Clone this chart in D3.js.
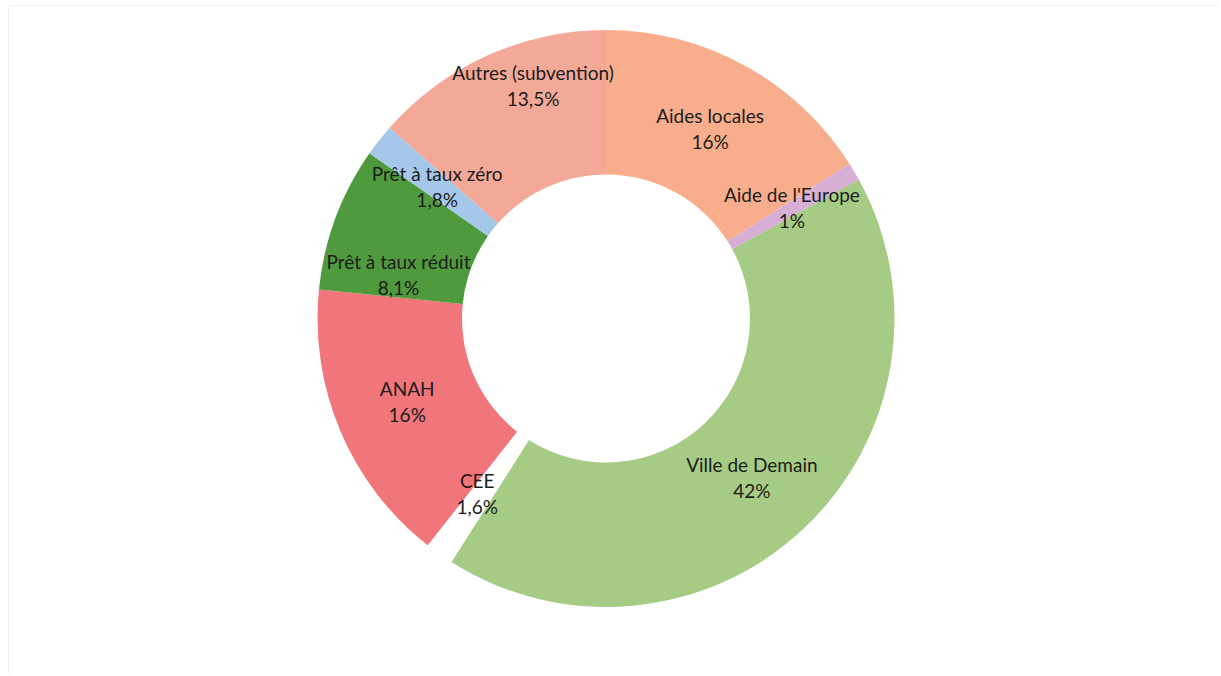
<!DOCTYPE html>
<html><head><meta charset="utf-8">
<script src="https://cdn.jsdelivr.net/npm/d3@7"></script>
<style>
html,body{margin:0;padding:0;background:#fff;}
svg{display:block;}
</style></head>
<body>
<svg id="chart" width="1221" height="676"></svg>
<script>
const categories = ["Aides locales","Aide de l'Europe","Ville de Demain","CEE","ANAH","Prêt à taux réduit","Prêt à taux zéro","Autres (subvention)"];
const values = [16, 1, 42, 1.6, 16, 8.1, 1.8, 13.5];
const valueLabels = ["16%","1%","42%","1,6%","16%","8,1%","1,8%","13,5%"];
const colors = ["#F8AE8C","#D7AED6","#A6CB84","#FFFFFF","#F0767B","#4F9A3C","#A5C7E9","#F4A898"];
const labelShift = [[0,0],[0,0],[-2,3],[-4,0],[0,0],[-5,32],[1,3],[16,-35]];

const W = 1221, H = 676;
const cx = 606, cy = 318.5, R = 288.5, r0 = 144;
const svg = d3.select("#chart");

svg.append("path").attr("d","M8.5,674 V5.5 H1219")
  .attr("fill","none").attr("stroke","#f0f0f0").attr("stroke-width",1);

const pie = d3.pie().value(d=>d).sort(null);
const arcs = pie(values);
const arc = d3.arc().innerRadius(r0).outerRadius(R);
const labelArc = d3.arc().innerRadius(216).outerRadius(216);

const g = svg.append("g").attr("transform",`translate(${cx},${cy})`);
g.selectAll("path.slice").data(arcs).join("path")
  .attr("class","slice")
  .attr("d",arc)
  .attr("fill",(d,i)=>colors[i]);

const lg = g.selectAll("text.lbl").data(arcs).join("text")
  .attr("class","lbl")
  .attr("text-anchor","middle")
  .attr("font-family","Lato, 'Open Sans', sans-serif")
  .attr("font-size",19)
  .attr("fill","#1c1c1c")
  .attr("transform",(d,i)=>{const c=labelArc.centroid(d);return `translate(${c[0]+labelShift[i][0]},${c[1]+labelShift[i][1]})`;});
lg.append("tspan").attr("x",0).attr("dy","-0.35em").text((d,i)=>categories[i]);
lg.append("tspan").attr("x",0).attr("dy","1.37em").text((d,i)=>valueLabels[i]);
</script>
</body></html>
